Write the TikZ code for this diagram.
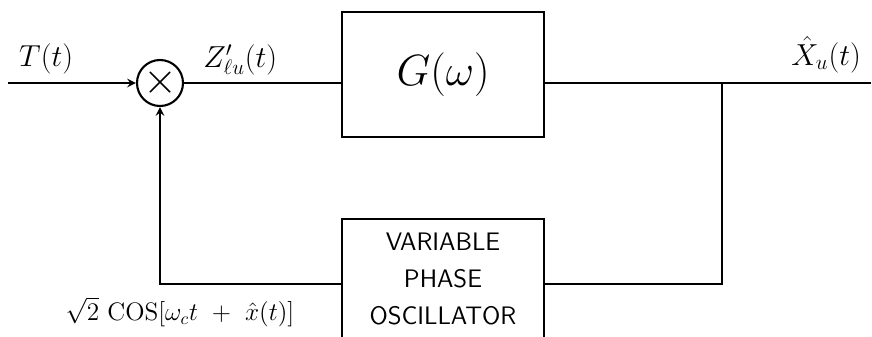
\documentclass[tikz,border=0pt]{standalone}
\usetikzlibrary{arrows, positioning, calc}

\begin{document}
\begin{tikzpicture}[
    x=0.2mm, y=0.2mm,
    block/.style={rectangle, draw, very thick, minimum width=40.4mm, align=center, inner sep=0pt},
    mult/.style={circle, draw, very thick, minimum size=9.2mm, inner sep=0pt},
    wire/.style={very thick},
    arrow/.style={->, very thick, >=stealth}
]
\useasboundingbox (0,0) rectangle (872,336);

% Forward path
\coordinate (in) at (8,253);
\node[mult] (mult) at (160,253) {\Huge$\times$};
\node[block, minimum height=25mm, font=\Huge] (filter) at (443,261.5) {$G(\omega)$};
\coordinate (out) at (871,253);
\coordinate (tap) at (722,253);

\draw[arrow] (in) -- (mult.west);
\draw[wire] (mult.east) -- (mult.east -| filter.west);
\draw[wire] (filter.east |- out) -- (out);

% Feedback path
\node[rectangle, minimum width=40.4mm, minimum height=22mm, align=center, font=\Large\sffamily] (vco) at (443,57)
    {VARIABLE\\[1.1mm]PHASE\\[1.1mm]OSCILLATOR};
\draw[very thick] ([yshift=-4mm]vco.south west) |- ([yshift=1mm]vco.north) -| ([yshift=-4mm]vco.south east);

\draw[wire] (tap) |- ([yshift=-1mm]vco.east);
\draw[arrow] ([yshift=-1mm]vco.west) -| (mult.south);

% Labels
\node[above right=0.6mm and 1mm of in, font=\LARGE] (tlabel) {$T(t)$};
\node[above right=0.4mm and 2.6mm of mult.east, font=\LARGE] (zlabel) {$Z'_{\ell u}(t)$};
\node[above left=0.8mm and 0.8mm of out, font=\LARGE] (xlabel) {$\hat{X}_u(t)$};
\node[font=\Large] (phase) at (180,24) {$\sqrt{2}\ \mathrm{COS}[\omega_c t\ +\ \hat{x}(t)]$};

\end{tikzpicture}
\end{document}
